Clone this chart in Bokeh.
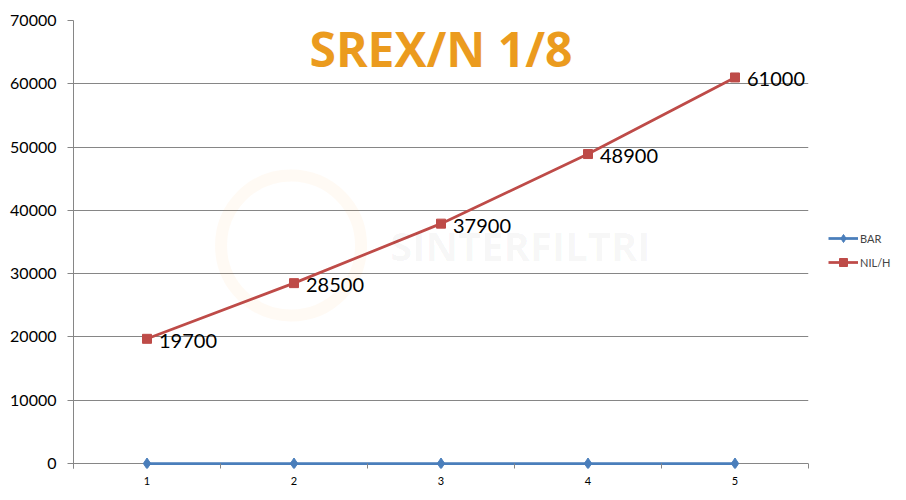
from bokeh.plotting import figure
from bokeh.models import Range1d, FixedTicker, Legend, LegendItem, Label, ColumnDataSource
from bokeh.core.properties import value
from bokeh.embed import file_html
from bokeh.resources import INLINE

categories = [1, 2, 3, 4, 5]
bar_values = [0, 0, 0, 0, 0]
nilh_values = [19700, 28500, 37900, 48900, 61000]
y_ticks = [0, 10000, 20000, 30000, 40000, 50000, 60000, 70000]
title_text = "SREX/N 1/8"
watermark_text = "SINTERFILTRI"

BLUE = "#4A7EBB"
RED = "#BE4B48"
GRID = "#868686"

p = figure(frame_width=735, frame_height=448, output_backend="svg", toolbar_location=None,
           x_range=Range1d(0.5, 5.5), y_range=Range1d(-790, 70000),
           min_border_left=73, min_border_top=20, min_border_right=98, min_border_bottom=30)
p.outline_line_color = None
p.background_fill_color = "white"

# watermark
p.circle(x=[1.98], y=[34450], radius=70, radius_units="screen", fill_color=None,
         line_color="#F6A623", line_alpha=0.05, line_width=12)
p.add_layout(Label(x=3.54, y=34450, text=watermark_text, text_font="Open Sans",
                   text_font_style="bold", text_font_size="40px", text_color="#000000",
                   text_alpha=0.04, text_align="center", text_baseline="middle"))

# axes
p.xaxis.ticker = FixedTicker(ticks=categories, minor_ticks=[0.5, 1.5, 2.5, 3.5, 4.5, 5.5])
p.xaxis.major_tick_out = 0
p.xaxis.major_tick_in = 0
p.xaxis.minor_tick_out = 0
p.xaxis.minor_tick_in = 5
p.xaxis.minor_tick_line_color = GRID
p.xaxis.axis_line_color = None
p.xaxis.major_label_standoff = 8
p.xaxis.major_label_text_font = "Lato"
p.xaxis.major_label_text_font_size = "11px"
p.xaxis.major_label_text_color = "black"

p.yaxis.ticker = FixedTicker(ticks=y_ticks, minor_ticks=[])
p.yaxis.major_tick_out = 6
p.yaxis.major_tick_in = 0
p.yaxis.major_tick_line_color = GRID
p.yaxis.axis_line_color = GRID
p.yaxis.major_label_standoff = 11
p.yaxis.major_label_text_font = "Lato"
p.yaxis.major_label_text_font_size = "16px"
p.yaxis.major_label_text_color = "black"
p.yaxis.formatter.use_scientific = False

p.xgrid.grid_line_color = None
p.ygrid.grid_line_color = GRID
p.ygrid.ticker = FixedTicker(ticks=y_ticks)

src = ColumnDataSource(dict(x=categories, bar=bar_values, nilh=nilh_values,
                            lbl=[str(v) for v in nilh_values]))

bl = p.line("x", "bar", source=src, line_color=BLUE, line_width=2.75)
bm = p.scatter("x", "bar", source=src, marker="diamond", size=11,
               fill_color=BLUE, line_color=BLUE, line_width=1)
rl = p.line("x", "nilh", source=src, line_color=RED, line_width=2.75)
rm = p.scatter("x", "nilh", source=src, marker="square", size=9, fill_color=RED,
               line_color=RED, line_width=1)

p.text("x", "nilh", text="lbl", source=src, x_offset=12, y_offset=2,
       text_font=value("Lato"), text_font_size="20px", text_color="black",
       text_baseline="middle", text_align="left")

p.add_layout(Label(x=3, y=65500, text=title_text, text_font="Open Sans",
                   text_font_style="bold", text_font_size="48px", text_color="#EB9B1E",
                   text_align="center", text_baseline="middle"))

legend = Legend(items=[LegendItem(label="BAR", renderers=[bl, bm]),
                       LegendItem(label="NIL/H", renderers=[rl, rm])],
                location=(20, 196), margin=0, padding=0, spacing=4,
                glyph_width=30, glyph_height=20, label_height=20, label_standoff=2,
                label_text_font="Lato", label_text_font_size="11px",
                border_line_color=None, background_fill_alpha=0)
p.add_layout(legend, "right")

open("out.html", "w").write(file_html(p, INLINE))
